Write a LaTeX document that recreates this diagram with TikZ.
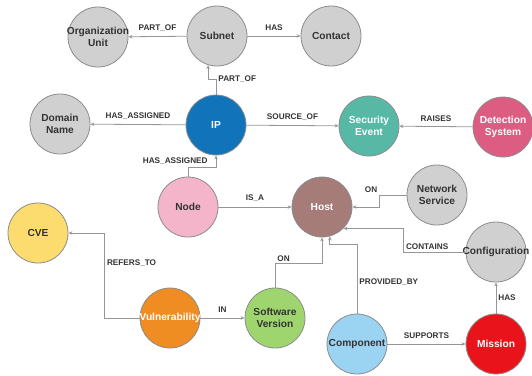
\documentclass[tikz,border=0pt]{standalone}
\usepackage{fontspec}
\setmainfont{Liberation Sans}
\usepackage{xcolor}
\usetikzlibrary{positioning,arrows.meta}

\definecolor{nodegray}{HTML}{D0D0D0}
\definecolor{rimgray}{HTML}{8C8C8C}
\definecolor{linegray}{HTML}{969696}
\definecolor{darktext}{HTML}{333333}
\definecolor{ipblue}{HTML}{1173B9}
\definecolor{secteal}{HTML}{57B9A5}
\definecolor{detpink}{HTML}{DD5C82}
\definecolor{nodepink}{HTML}{F4B4C9}
\definecolor{hostbrown}{HTML}{A67C78}
\definecolor{cveyellow}{HTML}{FDDC6F}
\definecolor{vulnorange}{HTML}{EF8C22}
\definecolor{swgreen}{HTML}{9FD56E}
\definecolor{compblue}{HTML}{9BD3F3}
\definecolor{missionred}{HTML}{E8131B}

\newcommand{\wide}[1]{\makebox[0pt]{#1}}

\tikzset{
  entity/.style={draw=rimgray, circle, minimum size=60pt, inner sep=0pt, line width=0.8pt,
    font=\fontsize{10.2}{12}\selectfont\bfseries, text=darktext, align=center},
  darkent/.style={entity, text=white},
  rel/.style={draw=linegray, line width=0.8pt, -{Stealth[length=4pt,width=3.5pt]}},
  rellabel/.style={font=\fontsize{8.2}{10}\selectfont\bfseries, text=darktext, inner sep=2pt}
}

\begin{document}
\begin{tikzpicture}[x=1pt, y=-1pt]
    \useasboundingbox (0,0) rectangle (532,375);

    % entities
    \node (org_unit) [entity, fill=nodegray] at (98,37) {\wide{Organization}\\Unit};
    \node (subnet) [entity, fill=nodegray] at (217,36) {Subnet};
    \node (contact) [entity, fill=nodegray] at (331,36) {Contact};
    \node (domain) [entity, fill=nodegray] at (60,124) {Domain\\Name};
    \node (ip) [darkent, fill=ipblue] at (216,125) {IP};
    \node (sec_event) [darkent, fill=secteal] at (369,126) {Security\\Event};
    \node (det_sys) [darkent, fill=detpink] at (503,127) {Detection\\System};
    \node (nd) [entity, fill=nodepink] at (188,207) {Node};
    \node (host) [darkent, fill=hostbrown] at (322,207) {Host};
    \node (net_svc) [entity, fill=nodegray] at (437,195) {Network\\Service};
    \node (cve) [entity, fill=cveyellow] at (38,233) {CVE};
    \node (config) [entity, fill=nodegray] at (496,252) {\wide{Configuration}};
    \node (vuln) [darkent, fill=vulnorange] at (170,318) {\wide{Vulnerability}};
    \node (sw_ver) [entity, fill=swgreen] at (275,318) {Software\\Version};
    \node (comp) [entity, fill=compblue] at (357,344) {\wide{Component}};
    \node (mission) [darkent, fill=missionred] at (496,344) {Mission};

    % relations
    \draw[rel] (subnet) -- node (l_org) [rellabel, above=3pt] {PART\_OF} (org_unit);
    \draw[rel] (subnet) -- node (l_contact) [rellabel, above=3pt] {HAS} (contact);
    \draw[rel] (ip.north) -- ++(0,-15) node (l_subnet) [rellabel, right] {PART\_OF} -| (subnet.-107);
    \draw[rel] (ip) -- node (l_domain) [rellabel, above=3pt] {HAS\_ASSIGNED} (domain);
    \draw[rel] (ip) -- node (l_source) [rellabel, above=3pt] {SOURCE\_OF} (sec_event);
    \draw[rel] (det_sys) -- node (l_raises) [rellabel, above=3pt] {RAISES} (sec_event);
    \draw[rel] (nd.north) -- ++(0,-9) -| node (l_assigned) [rellabel, pos=0.75, left=6pt] {HAS\_ASSIGNED} (ip.south);
    \draw[rel] (nd) -- node (l_isa) [rellabel, above=3pt] {IS\_A} (host);
    \draw[rel] (net_svc.west) -- ++(-27,0) node (l_on1) [rellabel, above left] {ON} |- (host.east);
    \draw[rel] (config.west) -- ++(-62,0) node (l_contains) [rellabel, above right] {CONTAINS} |- (host.-45);
    \draw[rel] (vuln.west) -- ++(-35,0) |- node (l_refers) [rellabel, pos=0.32, right] {REFERS\_TO} (cve.east);
    \draw[rel] (vuln) -- node (l_in) [rellabel, above=3pt] {IN} (sw_ver);
    \draw[rel] (sw_ver.north) -- ++(0,-24) node (l_on2) [rellabel, above right] {ON} -| (host.south);
    \draw[rel] (comp.north) -- node (l_provided) [rellabel, pos=0.45, right] {PROVIDED\_BY} ++(0,-69) -| (host.-75);
    \draw[rel] (comp) -- node (l_supports) [rellabel, above=3pt] {SUPPORTS} (mission);
    \draw[rel] (mission) -- node (l_has) [rellabel, right] {HAS} (config);
\end{tikzpicture}
\end{document}
